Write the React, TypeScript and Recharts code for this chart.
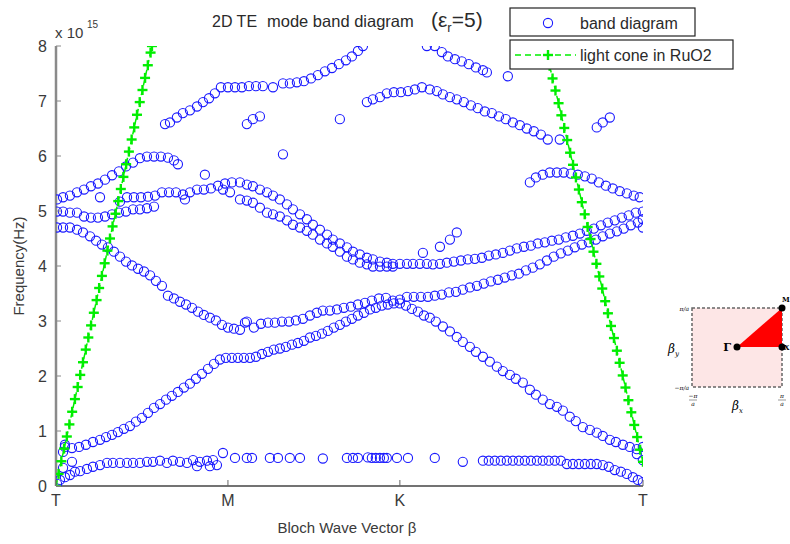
import React from 'react';
import { ScatterChart, Scatter, XAxis, YAxis } from 'recharts';

type P = [number, number];

// x axis: Bloch wave vector along T-M-K-T path (|TM| = 1, |MK| = 1, |KT| = sqrt 2)
const K_TICKS = [0, 1, 2, 3.414];
const K_LABELS = ['T', 'M', 'K', 'T'];
const FREQ_TICKS = [0, 1, 2, 3, 4, 5, 6, 7, 8];

// band diagram points, frequency in units of 1e15 Hz
const bandLowTM: P[] = [
  [0.006, 0.04], [0.023, 0.11], [0.052, 0.16], [0.081, 0.2], [0.11, 0.26], [0.14, 0.27], [0.18, 0.31],
  [0.215, 0.35], [0.256, 0.38], [0.297, 0.42], [0.331, 0.42], [0.372, 0.42], [0.413, 0.42], [0.448, 0.42],
  [0.488, 0.42], [0.529, 0.44], [0.564, 0.44], [0.605, 0.46], [0.645, 0.42], [0.68, 0.46], [0.721, 0.44],
  [0.762, 0.42], [0.797, 0.47], [0.837, 0.44], [0.878, 0.46], [0.913, 0.47], [0.936, 0.38], [0.971, 0.6],
  [0.895, 0.36], [0.82, 0.36],
];
const gammaCluster: P[] = [[0.052, 0.75], [0.041, 0.62], [0.093, 0.44], [0.041, 0.33]];
const bandLowMK: P[] = [
  [1.041, 0.51], [1.11, 0.51], [1.14, 0.51], [1.244, 0.51], [1.291, 0.51], [1.36, 0.51], [1.419, 0.51],
  [1.552, 0.5], [1.692, 0.51], [1.727, 0.51], [1.756, 0.51], [1.814, 0.52], [1.837, 0.51], [1.86, 0.51],
  [1.884, 0.51], [1.907, 0.51], [1.924, 0.51], [1.983, 0.51], [2.047, 0.51], [2.203, 0.51],
];
const bandLowKT: P[] = [
  [2.366, 0.44], [2.483, 0.46], [2.517, 0.46], [2.552, 0.46], [2.587, 0.46], [2.622, 0.46], [2.657, 0.46],
  [2.692, 0.46], [2.727, 0.46], [2.762, 0.46], [2.797, 0.46], [2.831, 0.46], [2.866, 0.46], [2.901, 0.46],
  [2.936, 0.46], [2.971, 0.4], [3.006, 0.4], [3.041, 0.4], [3.076, 0.4], [3.11, 0.4], [3.145, 0.4],
  [3.18, 0.38], [3.215, 0.35], [3.25, 0.29], [3.285, 0.26], [3.32, 0.22], [3.355, 0.16], [3.384, 0.11],
  [3.413, 0.07],
];
const band2TM: P[] = [
  [0.052, 0.71], [0.093, 0.69], [0.134, 0.71], [0.174, 0.75], [0.215, 0.8], [0.256, 0.84], [0.291, 0.89],
  [0.326, 0.93], [0.36, 0.98], [0.395, 1.04], [0.43, 1.09], [0.465, 1.17], [0.5, 1.24], [0.535, 1.33],
  [0.57, 1.42], [0.605, 1.49], [0.64, 1.57], [0.674, 1.64], [0.709, 1.71], [0.744, 1.79], [0.779, 1.86],
  [0.814, 1.95], [0.849, 2.04], [0.884, 2.13], [0.919, 2.22], [0.953, 2.3], [0.988, 2.33], [1.023, 2.33],
  [1.058, 2.33], [1.093, 2.33], [1.128, 2.33],
];
const band2MK: P[] = [
  [1.163, 2.35], [1.198, 2.4], [1.233, 2.44], [1.267, 2.48], [1.302, 2.5], [1.337, 2.53], [1.372, 2.57],
  [1.407, 2.6], [1.442, 2.64], [1.477, 2.7], [1.512, 2.73], [1.547, 2.77], [1.581, 2.82], [1.616, 2.88],
  [1.651, 2.93], [1.686, 2.99], [1.721, 3.04], [1.756, 3.1], [1.791, 3.15], [1.826, 3.21], [1.86, 3.24],
  [1.895, 3.28], [1.93, 3.3], [1.965, 3.32], [2.0, 3.32],
];
const band2KT: P[] = [
  [2.035, 3.28], [2.07, 3.22], [2.105, 3.17], [2.14, 3.1], [2.174, 3.06], [2.209, 2.99], [2.25, 2.9],
  [2.291, 2.81], [2.331, 2.71], [2.366, 2.62], [2.407, 2.53], [2.442, 2.44], [2.483, 2.35], [2.523, 2.26],
  [2.564, 2.17], [2.599, 2.09], [2.64, 2.02], [2.674, 1.95], [2.715, 1.88], [2.756, 1.75], [2.791, 1.66],
  [2.831, 1.57], [2.872, 1.49], [2.913, 1.44], [2.948, 1.37], [2.988, 1.26], [3.023, 1.18], [3.064, 1.07],
  [3.105, 1.02], [3.145, 0.97], [3.18, 0.91], [3.221, 0.84], [3.256, 0.8], [3.297, 0.75], [3.337, 0.71],
  [3.378, 0.67], [3.413, 0.71], [3.413, 0.47], [3.378, 0.58],
];
const band3TM: P[] = [
  [0.006, 4.7], [0.041, 4.7], [0.081, 4.7], [0.122, 4.66], [0.157, 4.61], [0.198, 4.54], [0.233, 4.46],
  [0.267, 4.39], [0.302, 4.34], [0.337, 4.26], [0.372, 4.17], [0.407, 4.08], [0.442, 4.01], [0.477, 3.95],
  [0.512, 3.9], [0.547, 3.83], [0.581, 3.73], [0.616, 3.64], [0.651, 3.46], [0.686, 3.41], [0.721, 3.35],
  [0.756, 3.3], [0.791, 3.24], [0.826, 3.17], [0.86, 3.11], [0.895, 3.06], [0.93, 3.01], [0.965, 2.93],
  [1.0, 2.88], [1.035, 2.86], [1.07, 2.84], [1.099, 2.97],
];
const band3MK: P[] = [
  [1.11, 2.99], [1.151, 2.88], [1.192, 2.95], [1.233, 2.97], [1.273, 2.97], [1.314, 2.99], [1.355, 2.99],
  [1.395, 3.01], [1.436, 3.04], [1.477, 3.1], [1.517, 3.15], [1.552, 3.19], [1.593, 3.19], [1.634, 3.21],
  [1.674, 3.24], [1.715, 3.26], [1.756, 3.3], [1.797, 3.33], [1.837, 3.37], [1.878, 3.41], [1.919, 3.42],
  [1.959, 3.37], [2.0, 3.39],
];
const band3KT: P[] = [
  [2.041, 3.44], [2.081, 3.44], [2.122, 3.44], [2.163, 3.44], [2.203, 3.46], [2.244, 3.48], [2.285, 3.52],
  [2.326, 3.53], [2.366, 3.57], [2.407, 3.61], [2.448, 3.64], [2.488, 3.68], [2.529, 3.72], [2.57, 3.75],
  [2.61, 3.79], [2.651, 3.83], [2.692, 3.86], [2.733, 3.92], [2.773, 3.97], [2.814, 4.03], [2.855, 4.1],
  [2.895, 4.17], [2.936, 4.23], [2.977, 4.28], [3.017, 4.34], [3.058, 4.39], [3.099, 4.43], [3.14, 4.48],
  [3.18, 4.54], [3.221, 4.59], [3.262, 4.63], [3.302, 4.68], [3.343, 4.74], [3.384, 4.79], [3.413, 4.85],
  [3.413, 4.7],
];
const band4MKUpper: P[] = [
  [1.07, 5.52], [1.11, 5.48], [1.145, 5.45], [1.186, 5.39], [1.227, 5.34], [1.262, 5.28], [1.302, 5.21],
  [1.343, 5.12], [1.378, 5.03], [1.419, 4.94], [1.459, 4.85], [1.494, 4.75], [1.535, 4.66], [1.576, 4.57],
  [1.61, 4.48], [1.651, 4.41], [1.692, 4.34], [1.727, 4.26], [1.767, 4.21], [1.808, 4.15], [1.843, 4.12],
  [1.884, 4.08], [1.924, 4.06], [1.959, 4.04], [2.0, 4.04], [2.041, 4.04], [2.076, 4.04], [2.116, 4.04],
  [2.157, 4.04],
];
const band4MKLower: P[] = [
  [0.971, 5.39], [1.012, 5.34], [1.07, 5.21], [1.11, 5.19], [1.145, 5.15], [1.186, 5.06], [1.227, 4.97],
  [1.262, 4.94], [1.302, 4.9], [1.343, 4.83], [1.378, 4.75], [1.419, 4.7], [1.459, 4.64], [1.494, 4.57],
  [1.535, 4.48], [1.576, 4.41], [1.61, 4.35], [1.651, 4.26], [1.692, 4.17], [1.727, 4.12], [1.767, 4.06],
  [1.808, 4.03], [1.843, 3.99], [1.884, 3.99], [1.924, 3.99], [1.959, 3.99],
];
const band4KT: P[] = [
  [2.192, 4.03], [2.233, 4.04], [2.273, 4.06], [2.314, 4.08], [2.355, 4.1], [2.395, 4.12], [2.436, 4.13],
  [2.477, 4.15], [2.517, 4.19], [2.558, 4.21], [2.599, 4.24], [2.64, 4.28], [2.68, 4.32], [2.721, 4.35],
  [2.762, 4.37], [2.802, 4.41], [2.843, 4.43], [2.884, 4.46], [2.924, 4.48], [2.965, 4.52], [3.006, 4.55],
  [3.047, 4.59], [3.087, 4.64], [3.128, 4.68], [3.169, 4.74], [3.209, 4.79], [3.25, 4.83], [3.291, 4.88],
  [3.331, 4.92], [3.372, 4.97], [3.413, 4.99],
];
const band4Isolated: P[] = [[2.134, 4.24], [2.233, 4.35], [2.291, 4.48], [2.331, 4.61]];
const band5TM: P[] = [
  [0.006, 4.99], [0.041, 4.99], [0.081, 4.97], [0.122, 4.97], [0.163, 4.9], [0.203, 4.88], [0.244, 4.88],
  [0.285, 4.9], [0.326, 4.94], [0.366, 4.97], [0.407, 4.99], [0.448, 5.03], [0.488, 5.03], [0.529, 5.05],
  [0.57, 5.08],
];
const band6TM: P[] = [
  [0.372, 5.17], [0.413, 5.25], [0.453, 5.25], [0.494, 5.25], [0.535, 5.26], [0.576, 5.28], [0.616, 5.34],
  [0.657, 5.34], [0.698, 5.34], [0.738, 5.3], [0.779, 5.34], [0.82, 5.39], [0.86, 5.39], [0.901, 5.41],
  [0.942, 5.46], [0.983, 5.5], [1.023, 5.52], [0.75, 5.21],
];
const band7TM: P[] = [
  [0.006, 5.21], [0.041, 5.25], [0.081, 5.28], [0.122, 5.34], [0.163, 5.39], [0.203, 5.45], [0.244, 5.5],
  [0.285, 5.57], [0.326, 5.65], [0.366, 5.72], [0.407, 5.81], [0.448, 5.88], [0.488, 5.96], [0.529, 5.99],
  [0.57, 5.99], [0.61, 5.99], [0.651, 5.97], [0.686, 5.92], [0.709, 5.85], [0.256, 5.25], [0.866, 5.66],
];
const band7KT: P[] = [
  [2.756, 5.52], [2.791, 5.61], [2.831, 5.66], [2.872, 5.7], [2.913, 5.7], [2.953, 5.7], [2.994, 5.68],
  [3.035, 5.66], [3.076, 5.63], [3.116, 5.59], [3.157, 5.52], [3.198, 5.46], [3.238, 5.41], [3.279, 5.36],
  [3.32, 5.32], [3.36, 5.28], [3.395, 5.25],
];
const band8TMK: P[] = [
  [0.634, 6.58], [0.663, 6.61], [0.703, 6.7], [0.738, 6.78], [0.779, 6.83], [0.82, 6.9], [0.855, 6.98],
  [0.89, 7.05], [0.924, 7.14], [0.959, 7.25], [1.0, 7.25], [1.041, 7.25], [1.081, 7.25], [1.122, 7.27],
  [1.163, 7.27], [1.203, 7.27], [1.262, 7.25], [1.32, 7.32], [1.36, 7.32], [1.401, 7.34], [1.442, 7.36],
  [1.483, 7.41], [1.523, 7.47], [1.564, 7.54], [1.605, 7.6], [1.645, 7.67], [1.686, 7.74], [1.721, 7.81],
  [1.756, 7.91], [1.785, 8.0],
];
const upperIsolated: P[] = [
  [1.11, 6.58], [1.145, 6.67], [1.186, 6.72], [1.651, 6.67], [1.32, 6.03], [3.145, 6.52], [3.18, 6.61],
  [3.221, 6.7],
];
const band8KT: P[] = [
  [1.808, 6.98], [1.843, 7.03], [1.884, 7.07], [1.924, 7.14], [1.965, 7.16], [2.006, 7.16], [2.047, 7.18],
  [2.087, 7.21], [2.128, 7.25], [2.174, 7.21], [2.215, 7.18], [2.25, 7.12], [2.291, 7.07], [2.331, 7.03],
  [2.372, 6.98], [2.413, 6.92], [2.453, 6.87], [2.494, 6.81], [2.535, 6.78], [2.576, 6.72], [2.616, 6.67],
  [2.657, 6.61], [2.698, 6.56], [2.738, 6.5], [2.779, 6.45], [2.82, 6.39], [2.86, 6.3], [2.93, 6.3],
];
const band9KT: P[] = [
  [2.157, 8.0], [2.203, 8.0], [2.244, 7.89], [2.279, 7.81], [2.32, 7.76], [2.36, 7.72], [2.401, 7.67],
  [2.442, 7.61], [2.483, 7.56], [2.506, 7.52], [2.628, 7.45],
];

// light cone markers
const coneLeftK = [
  0, 0.015, 0.031, 0.047, 0.063, 0.078, 0.094, 0.11, 0.126, 0.141, 0.157, 0.173, 0.188, 0.204, 0.22, 0.236,
  0.251, 0.267, 0.283, 0.299, 0.314, 0.329, 0.346, 0.362, 0.377, 0.392, 0.408, 0.424, 0.44, 0.455, 0.471,
  0.487, 0.503, 0.518, 0.534, 0.55, 0.558,
];
const coneLeftF = [
  0, 0.22, 0.45, 0.68, 0.9, 1.12, 1.35, 1.58, 1.8, 2.02, 2.25, 2.48, 2.7, 2.92, 3.15, 3.38, 3.6, 3.82, 4.05,
  4.28, 4.5, 4.72, 4.95, 5.18, 5.4, 5.62, 5.85, 6.08, 6.3, 6.52, 6.75, 6.98, 7.2, 7.42, 7.65, 7.88, 8.0,
];
const coneRightK = [
  3.414, 3.397, 3.38, 3.363, 3.346, 3.329, 3.312, 3.296, 3.278, 3.262, 3.245, 3.228, 3.21, 3.194, 3.177,
  3.16, 3.143, 3.126, 3.109, 3.092, 3.075, 3.058, 3.041, 3.024, 3.007, 2.99, 2.973, 2.956, 2.939, 2.923,
  2.905, 2.888, 2.871, 2.855, 2.844,
];
const coneRightF = [
  0.44, 0.66, 0.89, 1.11, 1.34, 1.56, 1.79, 2.01, 2.24, 2.46, 2.69, 2.91, 3.14, 3.36, 3.59, 3.81, 4.04,
  4.26, 4.49, 4.71, 4.94, 5.16, 5.39, 5.61, 5.84, 6.06, 6.29, 6.51, 6.74, 6.96, 7.19, 7.41, 7.64, 7.86, 8.0,
];

const bandSegments: P[][] = [
  bandLowTM, gammaCluster, bandLowMK, bandLowKT, band2TM, band2MK, band2KT, band3TM, band3MK, band3KT,
  band4MKUpper, band4MKLower, band4KT, band4Isolated, band5TM, band6TM, band7TM, band7KT, band8TMK,
  upperIsolated, band8KT, band9KT,
];
const bandData = bandSegments.flat().map(([x, y]) => ({ x, y }));
const coneLeft = coneLeftK.map((x, i) => ({ x, y: coneLeftF[i] }));
const coneRight = coneRightK.map((x, i) => ({ x, y: coneRightF[i] }));

const FONT = '"Liberation Sans", Arial, sans-serif';
const SERIF = '"DejaVu Serif", serif';
const BLUE = '#1a1aff';
const GREEN = '#00ee00';

const Ring = (p: any) => (
  <circle cx={p.cx} cy={p.cy} r={4.6} fill="none" stroke={BLUE} strokeWidth={1.1} />
);
const Plus = (p: any) => (
  <g stroke={GREEN} strokeWidth={2.4}>
    <line x1={p.cx - 5} x2={p.cx + 5} y1={p.cy} y2={p.cy} />
    <line x1={p.cx} x2={p.cx} y1={p.cy - 5} y2={p.cy + 5} />
  </g>
);

const YTick = (props: any) => {
  const { x, y, payload } = props;
  return (
    <g>
      <line x1={x + 8} x2={x + 13} y1={y} y2={y} stroke="#888" strokeWidth={1} />
      <text x={x - 1} y={y} dy="0.36em" textAnchor="end" fontSize={16} fill="#3a3a3a" fontFamily={FONT}>
        {payload.value}
      </text>
    </g>
  );
};
const XTick = (props: any) => {
  const { x, y, payload } = props;
  const label = K_LABELS[K_TICKS.indexOf(payload.value)];
  return (
    <g>
      <line x1={x} x2={x} y1={y - 8} y2={y - 14} stroke="#666" strokeWidth={1} />
      <text x={x} y={y} dy="0.75em" textAnchor="middle" fontSize={16} fill="#3a3a3a" fontFamily={FONT}>
        {label}
      </text>
    </g>
  );
};

export default function App() {
  return (
    <div style={{ position: 'absolute', left: 0, top: 0, width: 790, height: 544, background: '#fff' }}>
      <ScatterChart width={790} height={544} margin={{ top: 46, right: 147, bottom: 28, left: 10 }}>
        <XAxis
          type="number"
          dataKey="x"
          domain={[0, 3.414]}
          ticks={K_TICKS}
          tick={<XTick />}
          tickLine={false}
          axisLine={{ stroke: '#444', strokeWidth: 1.5 }}
          height={30}
          allowDataOverflow
        />
        <YAxis
          type="number"
          dataKey="y"
          domain={[0, 8]}
          ticks={FREQ_TICKS}
          tick={<YTick />}
          tickLine={false}
          axisLine={{ stroke: '#8a8a8a', strokeWidth: 2.5 }}
          width={46}
          allowDataOverflow
        />
        <Scatter name="band diagram" data={bandData} shape={<Ring />} isAnimationActive={false} />
        <Scatter
          name="light cone in RuO2"
          data={coneLeft}
          shape={<Plus />}
          line={{ stroke: GREEN, strokeWidth: 1.5, strokeDasharray: '6 4' }}
          lineType="joint"
          isAnimationActive={false}
        />
        <Scatter
          data={coneRight}
          shape={<Plus />}
          line={{ stroke: GREEN, strokeWidth: 1.5, strokeDasharray: '6 4' }}
          lineType="joint"
          isAnimationActive={false}
        />
      </ScatterChart>
      <svg width={790} height={544} style={{ position: 'absolute', left: 0, top: 0 }}>
        <text y={27} fontFamily={FONT} fill="#2a2a2a">
          <tspan x={212} fontSize={16}>2D TE</tspan>
          <tspan x={267} fontSize={16.5}>mode band diagram</tspan>
          <tspan x={431} fontSize={21}>(ε</tspan>
          <tspan fontSize={13} dy={5}>r</tspan>
          <tspan fontSize={21} dy={-5}>=5)</tspan>
        </text>
        <text x={55} y={38} fontFamily={FONT} fontSize={15} fill="#3a3a3a">x 10</text>
        <text x={87} y={28} fontFamily={FONT} fontSize={10} fill="#3a3a3a">15</text>
        <text
          x={20}
          y={266}
          transform="rotate(-90 20 266)"
          textAnchor="middle"
          dominantBaseline="middle"
          fontFamily={FONT}
          fontSize={15}
          fill="#3a3a3a"
        >
          Frequency(Hz)
        </text>
        <text x={347} y={533} textAnchor="middle" fontFamily={FONT} fontSize={15} fill="#3a3a3a">
          Bloch Wave Vector β
        </text>
        {/* legend */}
        <rect x={510} y={8} width={185} height={28} fill="#fff" stroke="#222" strokeWidth={1.2} />
        <circle cx={548} cy={23} r={4.6} fill="none" stroke={BLUE} strokeWidth={1.1} />
        <text x={580} y={29} fontFamily={FONT} fontSize={16} fill="#2a2a2a">band diagram</text>
        <rect x={510} y={40} width={223} height={29} fill="#fff" stroke="#222" strokeWidth={1.2} />
        <line x1={515} x2={576} y1={55} y2={55} stroke={GREEN} strokeWidth={1.5} strokeDasharray="6 4" />
        <g stroke={GREEN} strokeWidth={2.4}>
          <line x1={543} x2={553} y1={55} y2={55} />
          <line x1={548} x2={548} y1={50} y2={60} />
        </g>
        <text x={580} y={61} fontFamily={FONT} fontSize={16} fill="#2a2a2a">light cone in RuO2</text>
        {/* Brillouin zone inset */}
        <rect x={692} y={308} width={90} height={79} fill="#fde6e6" stroke="#666" strokeWidth={1.5} strokeDasharray="3 2" />
        <polygon points="737,347 782,347 782,308" fill="#f00" />
        <circle cx={737} cy={347} r={3.5} fill="#000" />
        <circle cx={782} cy={347} r={3.5} fill="#000" />
        <circle cx={782} cy={308} r={3.5} fill="#000" />
        <text x={731} y={351} textAnchor="end" fontFamily={SERIF} fontWeight="bold" fontSize={11}>Γ</text>
        <text x={782} y={302} fontFamily={SERIF} fontWeight="bold" fontSize={7}>M</text>
        <text x={784} y={350} fontFamily={SERIF} fontWeight="bold" fontSize={7}>X</text>
        <text x={689} y={311} textAnchor="end" fontFamily={SERIF} fontStyle="italic" fontSize={6}>π/a</text>
        <text x={689} y={390} textAnchor="end" fontFamily={SERIF} fontStyle="italic" fontSize={6}>−π/a</text>
        <text x={668} y={353} fontFamily={SERIF} fontStyle="italic" fontSize={12}>
          β<tspan fontSize={7} dy={3}>y</tspan>
        </text>
        <text x={732} y={410} fontFamily={SERIF} fontStyle="italic" fontSize={12}>
          β<tspan fontSize={7} dy={3}>x</tspan>
        </text>
        <text x={693} y={398} textAnchor="middle" fontFamily={SERIF} fontStyle="italic" fontSize={6}>−π</text>
        <line x1={689} x2={697} y1={400} y2={400} stroke="#333" strokeWidth={0.5} />
        <text x={693} y={406} textAnchor="middle" fontFamily={SERIF} fontStyle="italic" fontSize={6}>a</text>
        <text x={782} y={398} textAnchor="middle" fontFamily={SERIF} fontStyle="italic" fontSize={6}>π</text>
        <line x1={778} x2={786} y1={400} y2={400} stroke="#333" strokeWidth={0.5} />
        <text x={782} y={406} textAnchor="middle" fontFamily={SERIF} fontStyle="italic" fontSize={6}>a</text>
      </svg>
    </div>
  );
}
